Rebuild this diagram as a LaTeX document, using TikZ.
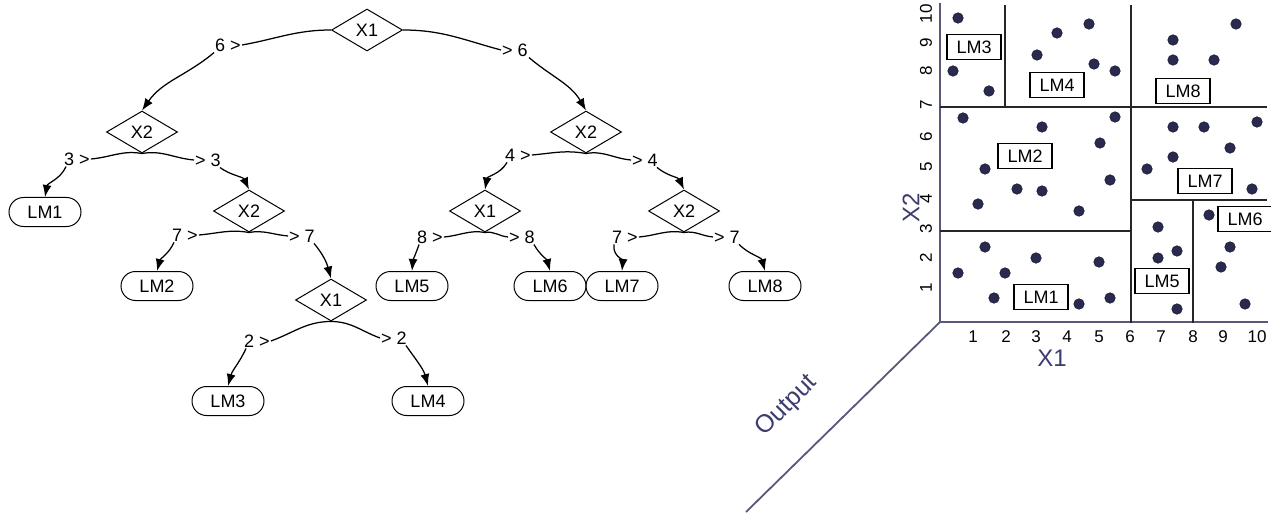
\documentclass[tikz,border=0pt]{standalone}
\usepackage{fontspec}
\setmainfont{Liberation Sans}
\usetikzlibrary{shapes.geometric,shapes.misc,arrows.meta}
\definecolor{axc}{RGB}{88,88,125}
\definecolor{txc}{RGB}{60,60,110}
\definecolor{dotc}{RGB}{42,42,80}
\begin{document}
\begin{tikzpicture}[x=1pt,y=-1pt,
  tf/.style={font=\fontsize{18}{20}\selectfont},
  dia/.style={diamond,draw,line width=1pt,minimum width=71pt,minimum height=42pt,inner sep=0pt,aspect=1.7,tf},
  lm/.style={rounded rectangle,draw,line width=1pt,minimum width=72pt,minimum height=29pt,inner sep=0pt,tf},
  lab/.style={inner sep=1pt,tf},
  br/.style={line width=1.25pt},
  arr/.style={br,-{Latex[length=12pt,width=9pt]}},
  box/.style={draw,line width=1.2pt,minimum width=54pt,minimum height=25pt,inner sep=0pt,fill=white,tf},
  dot/.style={circle,fill=dotc,draw=dotc!70!black,line width=0.6pt,inner sep=0pt,minimum size=10.5pt},
  part/.style={line width=1.5pt,draw=black!85},
  ax/.style={line width=1.8pt,draw=axc},
  tick/.style={inner sep=0pt,font=\fontsize{17}{19}\selectfont},
  big/.style={inner sep=0pt,text=txc,font=\fontsize{24}{26}\selectfont}
]
\useasboundingbox (0,0) rectangle (1271,513);

% ---------- tree ----------
\node[dia] (r) at (367,30) {X1};
\node[dia] (a) at (142,132) {X2};
\node[dia] (b) at (249,211) {X2};
\node[dia] (c) at (331,300) {X1};
\node[dia] (d) at (586,132) {X2};
\node[dia] (e) at (485,211) {X1};
\node[dia] (f) at (684,211) {X2};

\node[lm] (m1) at (45,212) {LM1};
\node[lm] (m2) at (157,286) {LM2};
\node[lm] (m3) at (228,401) {LM3};
\node[lm] (m4) at (428,401) {LM4};
\node[lm] (m5) at (412,286) {LM5};
\node[lm] (m6) at (550,286) {LM6};
\node[lm] (m7) at (622,286) {LM7};
\node[lm] (m8) at (765,286) {LM8};

\node[lab] (l6) at (228,45) {6 >};
\node[lab] (g6) at (515,50) {> 6};
\node[lab] (l3) at (77,159) {3 >};
\node[lab] (g3) at (208,160) {> 3};
\node[lab] (l7a) at (185,235) {7 >};
\node[lab] (g7a) at (302,236) {> 7};
\node[lab] (l2) at (257,341) {2 >};
\node[lab] (g2) at (394,338) {> 2};
\node[lab] (l4) at (518,155) {4 >};
\node[lab] (g4) at (645,160) {> 4};
\node[lab] (l8) at (430,237) {8 >};
\node[lab] (g8) at (522,237) {> 8};
\node[lab] (l7b) at (625,237) {7 >};
\node[lab] (g7b) at (727,237) {> 7};

% root
\draw[br] (r.west) to[out=180,in=10] (l6.east);
\draw[arr] (l6.south west) to[out=-140,in=55] (a.north);
\draw[br] (r.east) to[out=0,in=165] (g6.west);
\draw[arr] (g6.south east) to[out=-40,in=120] (d.north);
% a
\draw[br] (a.south) to[out=170,in=5] (l3.east);
\draw[arr] ([xshift=3pt]l3.south west) to[out=-115,in=80] (m1.north);
\draw[br] (a.south) to[out=10,in=175] (g3.west);
\draw[arr] ([xshift=-2pt]g3.south east) to[out=-35,in=115] (b.north);
% b
\draw[br] (b.south) to[out=170,in=5] (l7a.east);
\draw[arr] ([xshift=3pt]l7a.south west) to[out=-115,in=75] (m2.north);
\draw[br] (b.south) to[out=10,in=175] (g7a.west);
\draw[arr] ([xshift=-2pt]g7a.south east) to[out=-50,in=105] (c.north);
% c
\draw[br] (c.south) to[out=180,in=20] (l2.east);
\draw[arr] ([xshift=3pt]l2.south west) to[out=-115,in=75] (m3.north);
\draw[br] (c.south) to[out=0,in=160] (g2.west);
\draw[arr] ([xshift=-2pt]g2.south east) to[out=-55,in=105] (m4.north);
% d
\draw[br] (d.south) to[out=170,in=5] (l4.east);
\draw[arr] ([xshift=3pt]l4.south west) to[out=-120,in=80] (e.north);
\draw[br] (d.south) to[out=10,in=175] (g4.west);
\draw[arr] ([xshift=-2pt]g4.south east) to[out=-40,in=115] (f.north);
% e
\draw[br] (e.south) to[out=170,in=5] (l8.east);
\draw[arr] ([xshift=3pt]l8.south west) to[out=-110,in=85] (m5.north);
\draw[br] (e.south) to[out=10,in=175] (g8.west);
\draw[arr] ([xshift=-2pt]g8.south east) to[out=-60,in=105] (m6.north);
% f
\draw[br] (f.south) to[out=170,in=5] (l7b.east);
\draw[arr] ([xshift=3pt]l7b.south west) to[out=-100,in=85] (m7.north);
\draw[br] (f.south) to[out=10,in=175] (g7b.west);
\draw[arr] ([xshift=-2pt]g7b.south east) to[out=-45,in=105] (m8.north);

% ---------- partition plot ----------
\coordinate (o) at (940,322);
\coordinate (ytop) at (940,3);
\coordinate (xend) at (1268,322);
\coordinate (zend) at (746,512);
\draw[ax] (ytop) -- (o) -- (xend);
\draw[ax] (o) -- (zend);

\draw[part] (940,107) -- (1267,107);
\draw[part] (1005,5) -- (1005,107);
\draw[part] (1131,5) -- (1131,323);
\draw[part] (940,231) -- (1131,231);
\draw[part] (1131,200) -- (1267,200);
\draw[part] (1193,200) -- (1193,323);

\foreach \p [count=\i] in {(958,18),(953,71),(989,91),(1057,33),(1089,24),(1037,55),(1094,64),(1115,71),
  (1173,40),(1236,24),(1173,60),(1214,60),(963,118),(1042,127),(1115,117),(1100,143),(985,169),(1110,180),
  (1173,127),(1204,127),(1257,122),(1230,148),(1173,157),(1147,169),(1017,189),(1042,191),(978,204),(1079,211),
  (1252,189),(1209,215),(1158,227),(985,247),(1036,258),(1099,262),(958,273),(1005,273),(1158,258),(1177,251),
  (1230,247),(1221,267),(994,298),(1079,304),(1110,298),(1177,309),(1245,304)}
  \node[dot] (pt\i) at \p {};

\node[box] (b3) at (974,47) {LM3};
\node[box] (b4) at (1057,85) {LM4};
\node[box] (b8) at (1183,91) {LM8};
\node[box] (b2) at (1025,156) {LM2};
\node[box] (b7) at (1205,181) {LM7};
\node[box] (b6) at (1245,219) {LM6};
\node[box] (b5) at (1162,281) {LM5};
\node[box] (b1) at (1041,297) {LM1};

\foreach \x/\t in {973/1,1006/2,1036/3,1067/4,1099/5,1130/6,1161/7,1193/8,1223/9,1257/10}
  \node[tick] (tx\t) at (\x,337) {\t};
\foreach \y/\t in {288/1,258/2,229/3,199/4,167/5,137/6,105/7,71/8,43/9,14/10}
  \node[tick,rotate=90] (ty\t) at (926,\y) {\t};

\node[big] (x1l) at (1052,358) {X1};
\node[big,rotate=90] (x2l) at (911,208) {X2};
\node[big,rotate=45,font=\fontsize{25}{27}\selectfont] (outl) at (787,406) {Output};
\end{tikzpicture}
\end{document}
